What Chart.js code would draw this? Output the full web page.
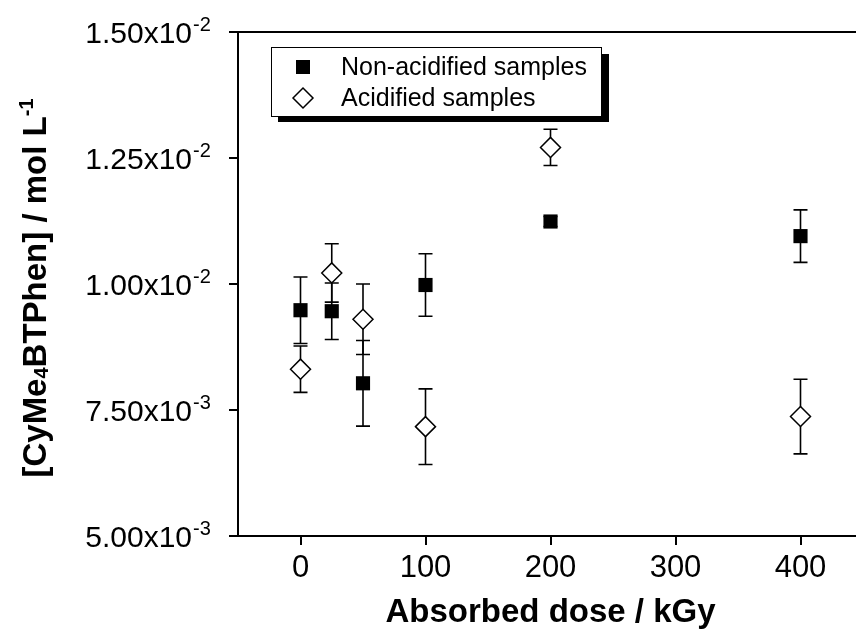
<!DOCTYPE html>
<html>
<head>
<meta charset="utf-8">
<script src="https://cdn.jsdelivr.net/npm/chart.js@4.4.1/dist/chart.umd.min.js"></script>
<style>
  html, body { margin: 0; padding: 0; background: #fff; overflow: hidden; }
  #wrap { width: 880px; height: 630px; }
</style>
</head>
<body>
<div id="wrap"><canvas id="chart" width="880" height="630"></canvas></div>
<script>
  'use strict';

  // absorbed dose, kGy
  var doses = [0, 25, 50, 100, 200, 400];

  var nonAcidified = [0.00948, 0.00946, 0.00803, 0.00998, 0.01124, 0.01095];
  var nonAcidifiedErr = [0.00066, 0.00056, 0.00085, 0.00062, 0.0001, 0.00052];

  var acidified = [0.00831, 0.01022, 0.00930, 0.00717, 0.01271, 0.00737];
  var acidifiedErr = [0.00046, 0.00058, 0.00070, 0.00075, 0.00036, 0.00074];

  var xTicks = [0, 100, 200, 300, 400];
  var yTicks = [0.005, 0.0075, 0.01, 0.0125, 0.015];
  var yTickMantissa = ['5.00x10', '7.50x10', '1.00x10', '1.25x10', '1.50x10'];
  var yTickExponent = ['-3', '-3', '-2', '-2', '-2'];

  var seriesLabels = ['Non-acidified samples', 'Acidified samples'];

  var FONT = '"Liberation Sans", Arial, sans-serif';

  function points(ys) {
    var out = [];
    for (var i = 0; i < doses.length; i++) {
      out.push({ x: doses[i], y: ys[i] });
    }
    return out;
  }

  var errorBars = {
    id: 'errorBars',
    beforeDatasetsDraw: function (chart) {
      var ctx = chart.ctx;
      var xs = chart.scales.x;
      var ys = chart.scales.y;
      var sets = [[nonAcidified, nonAcidifiedErr], [acidified, acidifiedErr]];
      ctx.save();
      ctx.strokeStyle = '#000';
      ctx.lineWidth = 1.6;
      for (var s = 0; s < sets.length; s++) {
        var vals = sets[s][0];
        var errs = sets[s][1];
        for (var i = 0; i < doses.length; i++) {
          var px = xs.getPixelForValue(doses[i]);
          var top = ys.getPixelForValue(vals[i] + errs[i]);
          var bot = ys.getPixelForValue(vals[i] - errs[i]);
          ctx.beginPath();
          ctx.moveTo(px, top);
          ctx.lineTo(px, bot);
          ctx.moveTo(px - 7, top);
          ctx.lineTo(px + 7, top);
          ctx.moveTo(px - 7, bot);
          ctx.lineTo(px + 7, bot);
          ctx.stroke();
        }
      }
      ctx.restore();
    }
  };

  var decorations = {
    id: 'decorations',
    afterDraw: function (chart) {
      var ctx = chart.ctx;
      var area = chart.chartArea;
      var ys = chart.scales.y;
      ctx.save();

      // frame top and right
      ctx.strokeStyle = '#000';
      ctx.lineWidth = 2;
      ctx.beginPath();
      ctx.moveTo(area.left, area.top);
      ctx.lineTo(area.right, area.top);
      ctx.lineTo(area.right, area.bottom);
      ctx.stroke();

      // y tick labels with exponents
      ctx.fillStyle = '#000';
      for (var i = 0; i < yTicks.length; i++) {
        var py = ys.getPixelForValue(yTicks[i]);
        ctx.font = '30px ' + FONT;
        ctx.textAlign = 'right';
        ctx.textBaseline = 'alphabetic';
        ctx.fillText(yTickMantissa[i], 192, py + 11);
        ctx.font = '20px ' + FONT;
        ctx.textAlign = 'left';
        ctx.fillText(yTickExponent[i], 193, py - 1.5);
      }

      // x axis title
      ctx.font = 'bold 33px ' + FONT;
      ctx.textAlign = 'center';
      ctx.fillText('Absorbed dose / kGy', (area.left + area.right) / 2, 622);

      // y axis title, rotated, with sub/superscript
      var parts = [
        { t: '[CyMe', f: 'bold 33px ', dy: 0 },
        { t: '4', f: 'bold 20px ', dy: 2 },
        { t: 'BTPhen] / mol L', f: 'bold 33px ', dy: 0 },
        { t: '-1', f: 'bold 20px ', dy: -13 }
      ];
      var total = 0;
      for (var p = 0; p < parts.length; p++) {
        ctx.font = parts[p].f + FONT;
        parts[p].w = ctx.measureText(parts[p].t).width;
        total += parts[p].w;
      }
      ctx.translate(46, 288);
      ctx.rotate(-Math.PI / 2);
      ctx.textAlign = 'left';
      var cx = -total / 2;
      for (var q = 0; q < parts.length; q++) {
        ctx.font = parts[q].f + FONT;
        ctx.fillText(parts[q].t, cx, parts[q].dy);
        cx += parts[q].w;
      }
      ctx.setTransform(1, 0, 0, 1, 0, 0);

      // legend box with shadow
      ctx.fillStyle = '#000';
      ctx.fillRect(278, 54, 331, 68);
      ctx.fillStyle = '#fff';
      ctx.fillRect(271, 47, 330, 69);
      ctx.lineWidth = 1;
      ctx.strokeStyle = '#000';
      ctx.strokeRect(271.5, 47.5, 330, 69);

      ctx.fillStyle = '#000';
      ctx.fillRect(303 - 7, 67 - 7, 14, 14);
      ctx.beginPath();
      ctx.moveTo(303 - 10, 98);
      ctx.lineTo(303, 88);
      ctx.lineTo(303 + 10, 98);
      ctx.lineTo(303, 108);
      ctx.closePath();
      ctx.fillStyle = '#fff';
      ctx.fill();
      ctx.lineWidth = 1.5;
      ctx.stroke();

      ctx.fillStyle = '#000';
      ctx.font = '25px ' + FONT;
      ctx.textAlign = 'left';
      ctx.fillText(seriesLabels[0], 341, 75);
      ctx.fillText(seriesLabels[1], 341, 106);

      ctx.restore();
    }
  };

  new Chart(document.getElementById('chart'), {
    type: 'scatter',
    data: {
      datasets: [{
        label: seriesLabels[0],
        data: points(nonAcidified),
        pointStyle: 'rect',
        pointRadius: 10,
        pointHoverRadius: 10,
        backgroundColor: '#000',
        borderColor: '#000',
        borderWidth: 0,
      }, {
        label: seriesLabels[1],
        data: points(acidified),
        pointStyle: 'rectRot',
        pointRadius: 10,
        pointHoverRadius: 10,
        backgroundColor: '#fff',
        borderColor: '#000',
        borderWidth: 1.5,
      }],
    },
    options: {
      responsive: false,
      animation: false,
      events: [],
      layout: { padding: { top: 32, right: 17, left: 0, bottom: 0 } },
      plugins: {
        legend: { display: false },
        tooltip: { enabled: false },
      },
      scales: {
        x: {
          type: 'linear',
          min: -50,
          max: 450,
          afterBuildTicks: function (scale) {
            scale.ticks = xTicks.map(function (v) { return { value: v }; });
          },
          afterFit: function (scale) { scale.height = 94; },
          border: { color: '#000', width: 2 },
          grid: { drawOnChartArea: false, drawTicks: true, tickLength: 9, color: '#000', lineWidth: 2 },
          ticks: {
            color: '#000',
            padding: 5,
            maxRotation: 0,
            font: { family: FONT, size: 31 },
          },
        },
        y: {
          type: 'linear',
          min: 0.005,
          max: 0.015,
          afterBuildTicks: function (scale) {
            scale.ticks = yTicks.map(function (v) { return { value: v }; });
          },
          afterFit: function (scale) { scale.width = 238; },
          border: { color: '#000', width: 2 },
          grid: { drawOnChartArea: false, drawTicks: true, tickLength: 9, color: '#000', lineWidth: 2 },
          ticks: { display: false },
        },
      },
    },
    plugins: [errorBars, decorations],
  });
</script>
</body>
</html>
